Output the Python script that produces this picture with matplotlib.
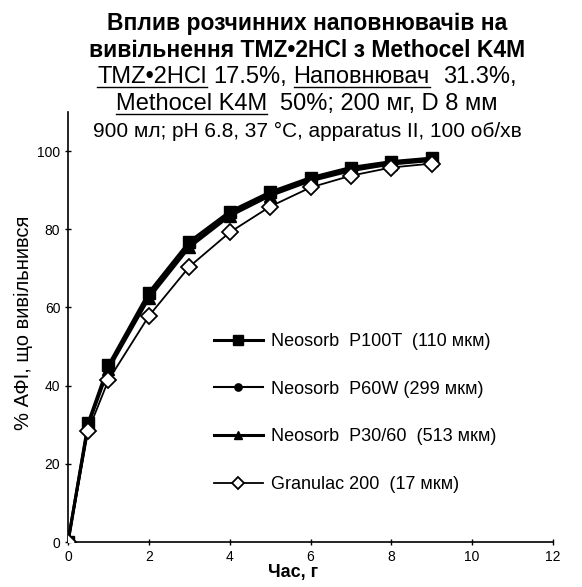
import numpy as np
import matplotlib
matplotlib.use("Agg")
import matplotlib.pyplot as plt
from matplotlib.lines import Line2D

plt.rcParams['font.family'] = ['Liberation Sans', 'DejaVu Sans']

# час відбору проб, год
hours = [0, 0.5, 1, 2, 3, 4, 5, 6, 7, 8, 9]

# % АФІ, що вивільнився
p100t = [0, 30.5, 45.2, 63.8, 76.8, 84.5, 89.5, 93.2, 95.8, 97.3, 98.2]
p60w = [0, 30.0, 44.6, 63.0, 76.0, 84.0, 89.0, 92.8, 95.3, 96.9, 97.8]
p3060 = [0, 30.0, 44.2, 62.4, 75.4, 83.4, 88.6, 92.4, 95.0, 96.7, 97.6]
granulac = [0, 28.5, 41.4, 57.8, 70.4, 79.2, 85.8, 90.7, 93.7, 95.8, 96.8]

labels = ["Neosorb  P100T  (110 мкм)", "Neosorb  P60W (299 мкм)",
          "Neosorb  P30/60  (513 мкм)", "Granulac 200  (17 мкм)"]

x_ticks = [0, 2, 4, 6, 8, 10, 12]
y_ticks = [0, 20, 40, 60, 80, 100]

W, H = 582, 587
XC = 307  # центр заголовка, px
fig = plt.figure(figsize=(W / 100, H / 100), dpi=100)
ax = fig.add_axes([68 / W, 45 / H, (553 - 68) / W, (542 - 112) / H])

ax.plot(hours, p100t, color='black', lw=2.2, marker='s', ms=9,
        mfc='black', mec='black', label=labels[0], zorder=4)
ax.plot(hours, p60w, color='black', lw=1.5, marker='o', ms=7,
        mfc='black', mec='black', label=labels[1], zorder=3)
ax.plot(hours, p3060, color='black', lw=2.2, marker='^', ms=8.5,
        mfc='black', mec='black', label=labels[2], zorder=3)
ax.plot(hours, granulac, color='black', lw=1.3, marker='D', ms=8,
        mfc='white', mec='black', mew=1.3, label=labels[3], zorder=5)

ax.set_xlim(0, 12)
ax.set_ylim(0, 110)
ax.set_xticks(x_ticks)
ax.set_yticks(y_ticks)
ax.tick_params(axis='both', labelsize=10, length=4, width=1, direction='inout',
               colors='black')
ax.spines['top'].set_visible(False)
ax.spines['right'].set_visible(False)
ax.spines['left'].set_linewidth(1.2)
ax.spines['bottom'].set_linewidth(1.2)
for sp in ax.spines.values():
    sp.set_clip_on(False)

fig.text(293 / W, 1 - 572 / H, "Час, г", ha='center', va='center',
         fontsize=13, fontweight='bold')
fig.text(23 / W, 1 - 323 / H, "% АФІ, що вивільнився", ha='center',
         va='center', rotation=90, fontsize=14.5)

fig.legend(loc='upper left', bbox_to_anchor=(214 / W, 1 - 333 / H),
           frameon=False, fontsize=13, labelspacing=1.7, handlelength=2.7,
           handletextpad=0.45, borderpad=0, borderaxespad=0, markerscale=0.75)

# заголовок
fig.text(XC / W, 1 - 30 / H, "Вплив розчинних наповнювачів на", ha='center',
         va='baseline', fontsize=16.5, fontweight='bold')
fig.text(XC / W, 1 - 57 / H, "вивільнення TMZ•2HCl з Methocel K4M", ha='center',
         va='baseline', fontsize=16.5, fontweight='bold')
fig.text(XC / W, 1 - 137 / H, "900 мл; pH 6.8, 37 °C, apparatus II, 100 об/хв",
         ha='center', va='baseline', fontsize=15)

line3 = [("TMZ•2HCl", True), ("17.5%,", False), ("Наповнювач", True),
         ("31.3%,", False)]
gaps3 = [1, 1, 2]
line4 = [("Methocel K4M", True), ("50%; 200 мг, D 8 мм", False)]
gaps4 = [2]

renderer = fig.canvas.get_renderer()


def underlined_line(segs, gaps, base_px, size):
    texts = [fig.text(0, 1 - base_px / H, s, fontsize=size, va='baseline',
                      ha='left') for s, _ in segs]
    sp = fig.text(0, 0, "a a", fontsize=size)
    sp2 = fig.text(0, 0, "aa", fontsize=size)
    space_w = sp.get_window_extent(renderer).width - sp2.get_window_extent(renderer).width
    sp.remove()
    sp2.remove()
    widths = [t.get_window_extent(renderer).width for t in texts]
    total = sum(widths) + space_w * sum(gaps)
    x = XC - total / 2
    for i, (t, (s, ul)) in enumerate(zip(texts, segs)):
        t.set_x(x / W)
        if ul:
            yl = 1 - (base_px + 4) / H
            fig.add_artist(Line2D([x / W, (x + widths[i]) / W], [yl, yl],
                                  color='black', lw=1.0,
                                  transform=fig.transFigure))
        x += widths[i]
        if i < len(gaps):
            x += space_w * gaps[i]


underlined_line(line3, gaps3, 83, 17)
underlined_line(line4, gaps4, 110, 17)

fig.savefig("out.png", dpi=100)
